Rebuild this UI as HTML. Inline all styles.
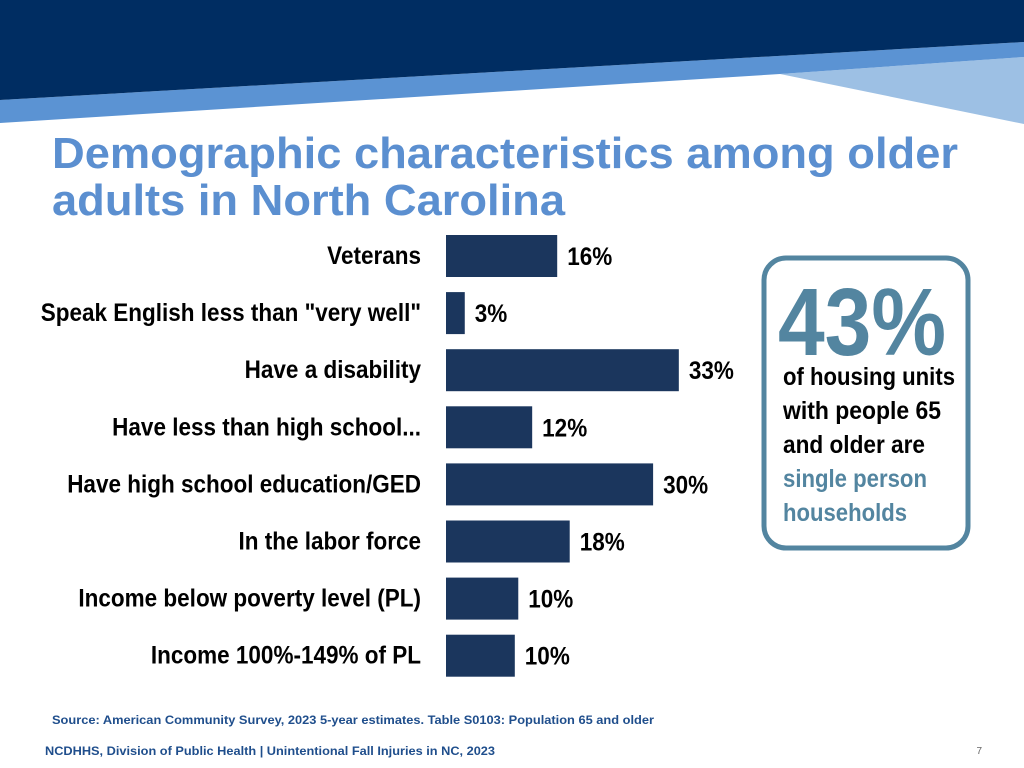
<!DOCTYPE html>
<html><head><meta charset="utf-8"><style>
body{margin:0;background:#fff;}
svg{display:block;}
.lab{font-family:"Liberation Sans",sans-serif;font-weight:bold;font-size:25px;fill:#000;}
</style></head><body>
<svg width="1024" height="768" viewBox="0 0 1024 768">
<polygon points="780,74 1024,57 1024,124" fill="#9dc0e4"/>
<polygon points="0,100 1024,42 1024,57 780,74 0,123" fill="#5b93d3"/>
<polygon points="0,0 1024,0 1024,42 0,100" fill="#002d62"/>
<text font-family="Liberation Sans,sans-serif" font-weight="bold" font-size="44" fill="#5b8fd0" lengthAdjust="spacingAndGlyphs"><tspan x="52" y="168" textLength="906" lengthAdjust="spacingAndGlyphs">Demographic characteristics among older</tspan><tspan x="52" y="215" textLength="513" lengthAdjust="spacingAndGlyphs">adults in North Carolina</tspan></text>
<g id="chart"></g>
<rect x="764" y="258" width="204" height="290" rx="22" fill="#fff" stroke="#5385a0" stroke-width="5"/>
<text x="778" y="355" textLength="168" lengthAdjust="spacingAndGlyphs" font-family="Liberation Sans,sans-serif" font-weight="bold" font-size="96" fill="#5385a0">43%</text>
<text font-family="Liberation Sans,sans-serif" font-weight="bold" font-size="25"><tspan x="783" y="385" fill="#000" textLength="172" lengthAdjust="spacingAndGlyphs">of housing units</tspan><tspan x="783" y="419" fill="#000" textLength="158" lengthAdjust="spacingAndGlyphs">with people 65</tspan><tspan x="783" y="453" fill="#000" textLength="142" lengthAdjust="spacingAndGlyphs">and older are</tspan><tspan x="783" y="487" fill="#5385a0" textLength="144" lengthAdjust="spacingAndGlyphs">single person</tspan><tspan x="783" y="521" fill="#5385a0" textLength="124" lengthAdjust="spacingAndGlyphs">households</tspan></text>
<text x="52" y="724" font-family="Liberation Sans,sans-serif" font-weight="bold" font-size="12" fill="#1f4e8c" textLength="602" lengthAdjust="spacingAndGlyphs">Source: American Community Survey, 2023 5-year estimates. Table S0103: Population 65 and older</text>
<text x="45" y="755" font-family="Liberation Sans,sans-serif" font-weight="bold" font-size="12" fill="#1f4e8c" textLength="450" lengthAdjust="spacingAndGlyphs">NCDHHS, Division of Public Health | Unintentional Fall Injuries in NC, 2023</text>
<text x="982" y="754" text-anchor="end" font-family="Liberation Sans,sans-serif" font-size="10" fill="#666">7</text>
</svg>
<script>
const categories=["Veterans","Speak English less than \"very well\"","Have a disability","Have less than high school...","Have high school education/GED","In the labor force","Income below poverty level (PL)","Income 100%-149% of PL"];
const values=[16,2.7,33.5,12.4,29.8,17.8,10.4,9.9];
const valueLabels=["16%","3%","33%","12%","30%","18%","10%","10%"];
const NS="http://www.w3.org/2000/svg";
const g=document.getElementById('chart');
const x0=446, pxPer=6.95, top0=256, step=57.1, bh=42, squeeze=0.9;
const xs=v=>x0+v*pxPer;
const ys=i=>top0+i*step;
function fit(t){const l=t.getComputedTextLength();t.setAttribute('textLength',l*squeeze);t.setAttribute('lengthAdjust','spacingAndGlyphs');}
categories.forEach((c,i)=>{
  const cy=ys(i);
  const r=document.createElementNS(NS,'rect');
  
  
  r.setAttribute('x',x0);r.setAttribute('y',cy-bh/2);
  r.setAttribute('width',xs(values[i])-x0);r.setAttribute('height',bh);
  r.setAttribute('fill','#1b365d');
  g.appendChild(r);
  const t=document.createElementNS(NS,'text');
  
  
  t.setAttribute('class','lab');t.setAttribute('x',421);t.setAttribute('y',cy+8);
  t.setAttribute('text-anchor','end');t.textContent=c;
  g.appendChild(t);fit(t);
  const v=document.createElementNS(NS,'text');
  
  
  v.setAttribute('class','lab');v.setAttribute('x',xs(values[i])+10);v.setAttribute('y',cy+9);
  v.textContent=valueLabels[i];
  g.appendChild(v);fit(v);
});
</script>
</body></html>
